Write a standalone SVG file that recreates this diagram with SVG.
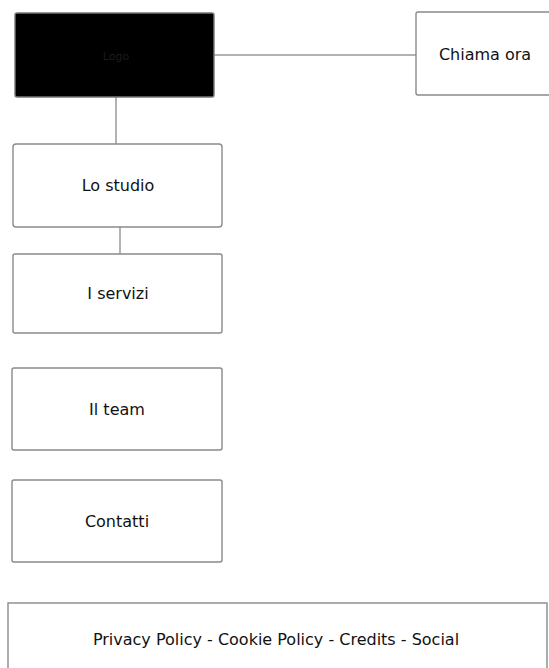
<svg xmlns="http://www.w3.org/2000/svg" width="549" height="668" viewBox="0 0 549 668">
<style>
.box{fill:#fff;stroke:#8a8a8a;stroke-width:1.4}
.lbl{font-family:"DejaVu Sans",sans-serif;font-size:16px;fill:#111;text-anchor:middle}
.con{stroke:#999;stroke-width:1.5;fill:none}
</style>
<rect width="549" height="668" fill="#fff"/>
<g id="connectors">
<line class="con" x1="214" y1="55" x2="416" y2="55"/>
<line class="con" x1="116" y1="97" x2="116" y2="144"/>
<line class="con" x1="120" y1="227" x2="120" y2="254"/>
</g>
<g id="logo">
<rect x="15" y="13" width="199" height="84" rx="2" fill="#000" stroke="#777" stroke-width="1.4"/>
<text x="116" y="60" font-family="DejaVu Sans,sans-serif" font-size="11" fill="#1c1c1c" text-anchor="middle">Logo</text>
</g>
<g id="chiama">
<rect class="box" x="416" y="12" width="150" height="83" rx="2"/>
<text class="lbl" x="485" y="60">Chiama ora</text>
</g>
<g id="studio">
<rect class="box" x="13" y="144" width="209" height="83" rx="3"/>
<text class="lbl" x="118" y="191">Lo studio</text>
</g>
<g id="servizi">
<rect class="box" x="13" y="254" width="209" height="79" rx="2"/>
<text class="lbl" x="118" y="299">I servizi</text>
</g>
<g id="team">
<rect class="box" x="12" y="368" width="210" height="82" rx="2"/>
<text class="lbl" x="117" y="415">Il team</text>
</g>
<g id="contatti">
<rect class="box" x="12" y="480" width="210" height="82" rx="2"/>
<text class="lbl" x="117" y="527">Contatti</text>
</g>
<g id="footer">
<rect class="box" x="8" y="603" width="539" height="90"/>
<text class="lbl" x="276" y="645">Privacy Policy - Cookie Policy - Credits - Social</text>
</g>
</svg>
